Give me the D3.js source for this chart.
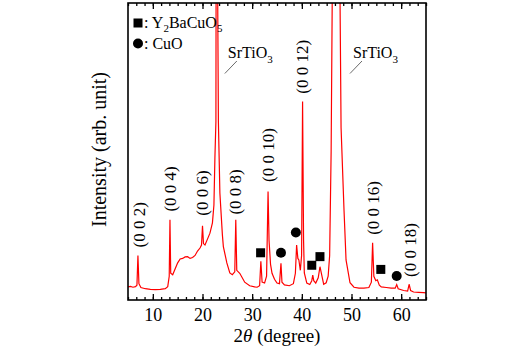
<!DOCTYPE html>
<html>
<head>
<meta charset="utf-8">
<script src="https://cdn.jsdelivr.net/npm/d3@7"></script>
<style>
  body { margin: 0; background: #fff; }
  text { font-family: "Liberation Serif", "Times New Roman", serif; }
</style>
</head>
<body>
<div id="container"></div>
<script>
// XRD pattern (2theta in degree, intensity in arb. unit)
var twoTheta = [5.0, 5.5, 6.0, 6.5, 6.8, 7.0, 7.2, 7.6, 8.5, 9.5, 10.5, 11.5, 12.5, 13.0, 13.3, 13.45, 13.6,
  14.0, 14.5, 15.0, 15.5, 16.0, 16.5, 17.0, 17.5, 18.0, 18.5, 19.0, 19.5, 19.8, 20.0, 20.2, 20.5,
  21.0, 21.5, 22.0, 22.3, 22.5, 22.7, 22.85, 23.0, 23.2, 23.5, 24.0, 24.2, 24.9, 25.5, 26.0, 26.5,
  26.7, 26.9, 27.5, 28.5, 29.5, 30.5, 31.0, 31.5, 31.75, 32.0, 32.5, 32.9, 33.2, 33.4, 33.7, 34.0,
  34.5, 35.0, 35.5, 35.8, 36.0, 36.5, 37.5, 38.3, 38.7, 38.95, 39.2, 39.4, 39.7, 39.95, 40.15, 40.35,
  40.5, 41.0, 41.6, 42.0, 42.2, 42.4, 42.8, 43.3, 43.65, 44.0, 44.4, 44.9, 45.3, 45.6, 45.9, 46.2,
  47.0, 47.6, 47.9, 48.5, 48.9, 49.7, 50.5, 51.5, 52.5, 53.5, 54.0, 54.25, 54.5, 54.9, 55.2, 55.6,
  56.0, 57.0, 58.0, 58.8, 59.1, 59.4, 60.5, 61.3, 61.6, 61.9, 62.5, 63.5, 64.5, 65.0];
var intensity = [4.4, 4.6, 4.3, 4.5, 5.0, 15.0, 5.5, 4.2, 3.8, 3.6, 3.5, 3.6, 3.8, 4.5, 8, 27, 9,
  8.5, 10.5, 12.5, 13.8, 14.0, 14.5, 14.6, 14.0, 14.3, 15.0, 16.5, 17.5, 18.5, 25, 19, 18.5,
  20.5, 22.5, 26, 32, 48, 60, 250, 120, 60, 36, 22, 18, 12.5, 9.1, 8.5, 9.5,
  27, 10, 9, 6, 4.8, 4.4, 4.3, 4.8, 13, 6, 5.7, 8, 36.5, 20, 12, 9,
  7, 5.7, 5.5, 12.4, 6, 5.1, 4.8, 5.5, 9, 18.5, 14, 13.5, 10, 15, 66.8, 20,
  9.1, 5.7, 5.2, 6.5, 8.4, 6.5, 5.7, 7.5, 11.2, 8.5, 5.3, 5.8, 8, 15, 50, 120,
  300, 120, 58, 30, 13.5, 5.8, 4.3, 4.0, 4.0, 4.2, 6, 19.3, 8, 6.5, 6.8, 5,
  4.4, 4.2, 4.0, 4.0, 5.2, 3.8, 3.2, 3.0, 5.3, 3.2, 2.7, 2.6, 2.5, 2.4];

// (0 0 l) reflections of the film
var hklLabels = ["(0 0 2)", "(0 0 4)", "(0 0 6)", "(0 0 8)", "(0 0 10)", "(0 0 12)", "(0 0 16)", "(0 0 18)"];
var hklX = [7.2, 13.45, 19.85, 26.55, 33.2, 39.95, 54.4, 61.75];
var hklY = [25.3, 37.4, 36.0, 36.4, 48.8, 78.5, 31.0, 16.8];

// substrate peaks, label start position
var stoX = [25.1, 50.3];

// impurity markers
var ybcoX = [31.7, 42.0, 43.65, 55.9];
var ybcoY = [15.9, 11.7, 14.6, 10.3];
var cuoX = [35.8, 38.8, 59.1];
var cuoY = [15.9, 22.7, 8.1];

var xTicks = [10, 20, 30, 40, 50, 60];

var margin = {top: 3, right: 106, bottom: 55, left: 128},
    width = 532 - margin.left - margin.right,
    height = 355 - margin.top - margin.bottom;

var svg = d3.select("#container")
  .append("svg")
    .attr("width", 532)
    .attr("height", 355)
  .append("g")
    .attr("transform", "translate(" + margin.left + "," + margin.top + ")");

var x = d3.scaleLinear().domain([5, 65]).range([0, width]);
var y = d3.scaleLinear().domain([0, 100]).range([height, 0]);

svg.append("clipPath").attr("id", "clip")
  .append("rect").attr("width", width).attr("height", height);

var data = twoTheta.map(function(d, i) { return {t: d, v: intensity[i]}; });

svg.append("path")
  .datum(data)
  .attr("clip-path", "url(#clip)")
  .attr("fill", "none")
  .attr("stroke", "#ff0000")
  .attr("stroke-width", 1.2)
  .attr("d", d3.line()
    .x(function(d) { return x(d.t); })
    .y(function(d) { return y(d.v); }));

// minor ticks (5 between majors), bottom and top, pointing inward
var minor = d3.range(5, 65.01, 10 / 6);
svg.append("g")
  .attr("transform", "translate(0," + height + ")")
  .call(d3.axisBottom(x).tickValues(minor).tickSize(-3).tickFormat(""))
  .call(function(g) { g.select(".domain").remove(); g.selectAll("line").attr("stroke-width", 1.3); });
svg.append("g")
  .call(d3.axisTop(x).tickValues(minor).tickSize(-3).tickFormat(""))
  .call(function(g) { g.select(".domain").remove(); g.selectAll("line").attr("stroke-width", 1.3); });

var xAxis = svg.append("g")
  .attr("transform", "translate(0," + height + ")")
  .call(d3.axisBottom(x).tickValues(xTicks).tickSize(-6).tickPadding(8));
xAxis.select(".domain").remove();
xAxis.selectAll("line").attr("stroke-width", 1.3);
xAxis.selectAll("text").attr("font-size", 18).attr("fill", "#000");

svg.append("g")
  .call(d3.axisTop(x).tickValues(xTicks).tickSize(-6).tickFormat(""))
  .call(function(g) { g.select(".domain").remove(); g.selectAll("line").attr("stroke-width", 1.3); });

// frame
svg.append("rect")
  .attr("width", width).attr("height", height)
  .attr("fill", "none").attr("stroke", "#000").attr("stroke-width", 1.6);

// axis titles
svg.append("text")
  .attr("transform", "translate(-22," + (height / 2 - 2) + ") rotate(-90)")
  .attr("text-anchor", "middle")
  .attr("font-size", 20)
  .text("Intensity (arb. unit)");

var xt = svg.append("text")
  .attr("x", width / 2)
  .attr("y", height + 42)
  .attr("text-anchor", "middle")
  .attr("font-size", 19);
xt.append("tspan").text("2");
xt.append("tspan").attr("font-style", "italic").text("θ");
xt.append("tspan").text(" (degree)");

// reflection labels
svg.selectAll(".hkl")
  .data(hklLabels)
  .enter().append("text")
    .attr("class", "hkl")
    .attr("transform", function(d, i) {
      return "translate(" + (x(hklX[i]) + 6) + "," + y(hklY[i]) + ") rotate(-90)";
    })
    .attr("text-anchor", "middle")
    .attr("font-size", 17)
    .text(function(d) { return d; });

// SrTiO3 labels with leader lines
stoX.forEach(function(t) {
  var g = svg.append("g");
  var tx = g.append("text")
    .attr("x", x(t))
    .attr("y", 55)
    .attr("font-size", 16);
  tx.append("tspan").text("SrTiO");
  tx.append("tspan").attr("font-size", 11).attr("dy", 5).text("3");
  g.append("line")
    .attr("x1", x(t) + 9).attr("y1", 58)
    .attr("x2", x(t) - 3).attr("y2", 70.5)
    .attr("stroke", "#444").attr("stroke-width", 0.8);
});

// impurity markers
svg.selectAll(".sq")
  .data(ybcoX)
  .enter().append("rect")
    .attr("x", function(d) { return x(d) - 4.5; })
    .attr("y", function(d, i) { return y(ybcoY[i]) - 4.5; })
    .attr("width", 9).attr("height", 9)
    .attr("fill", "#000");

svg.selectAll(".ci")
  .data(cuoX)
  .enter().append("circle")
    .attr("cx", function(d) { return x(d); })
    .attr("cy", function(d, i) { return y(cuoY[i]); })
    .attr("r", 5)
    .attr("fill", "#000");

// legend
var leg = svg.append("g").attr("transform", "translate(10,20)");
leg.append("rect").attr("x", -4.5).attr("y", -4.5).attr("width", 9).attr("height", 9).attr("fill", "#000");
var l1 = leg.append("text").attr("x", 6).attr("y", 5).attr("font-size", 16);
l1.append("tspan").text(": Y");
l1.append("tspan").attr("font-size", 11).attr("dy", 4).text("2");
l1.append("tspan").attr("dy", -4).text("BaCuO");
l1.append("tspan").attr("font-size", 11).attr("dy", 4).text("5");
leg.append("circle").attr("cx", 0).attr("cy", 20.5).attr("r", 5).attr("fill", "#000");
leg.append("text").attr("x", 6).attr("y", 26).attr("font-size", 16).text(": CuO");
</script>
</body>
</html>
